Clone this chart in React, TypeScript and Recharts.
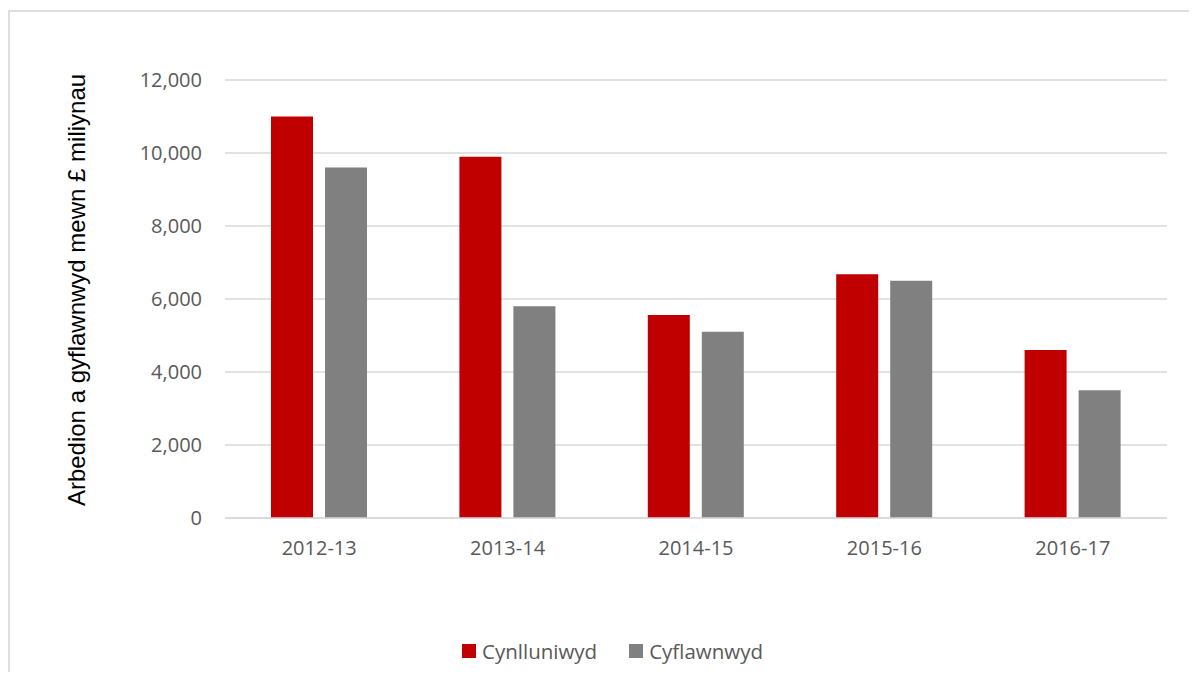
import React from 'react';
import { BarChart, Bar, XAxis, YAxis, CartesianGrid, Legend } from 'recharts';

const years = ['2012-13', '2013-14', '2014-15', '2015-16', '2016-17'];
const planned = [11000, 9900, 5560, 6680, 4600];
const achieved = [9600, 5800, 5100, 6500, 3500];
const yTicks = [0, 2000, 4000, 6000, 8000, 10000, 12000];

const plannedName = 'Cynlluniwyd';
const achievedName = 'Cyflawnwyd';
const yTitle = 'Arbedion a gyflawnwyd mewn £ miliynau';

const RED = '#C00000';
const GREY = '#808080';
const TICK_FONT = '"Open Sans", "Noto Sans", sans-serif';

const data = years.map((year, i) => ({
    year,
    planned: planned[i],
    achieved: achieved[i]
}));

const YTitle = ({ viewBox }: any) => {
    const mid = viewBox.y + viewBox.height / 2 - 9;
    return (
        <text
            x={0}
            y={0}
            transform={`translate(66, ${mid}) rotate(-90)`}
            textAnchor="middle"
            dominantBaseline="central"
            fill="#000"
            style={{ fontFamily: '"Liberation Sans", Arial, sans-serif', fontSize: 24 }}
        >
            {yTitle}
        </text>
    );
};

const LegendBox = () => (
    <div
        style={{
            height: 24,
            display: 'flex',
            justifyContent: 'center',
            alignItems: 'center',
            paddingLeft: 48,
            fontFamily: TICK_FONT,
            fontSize: 20.5,
            color: '#595959'
        }}
    >
        {[{ name: plannedName, color: RED }, { name: achievedName, color: GREY }].map((item, i) => (
            <span key={item.name} style={{ display: 'flex', alignItems: 'center', marginLeft: i ? 32 : 0 }}>
                <span style={{ width: 14, height: 14, background: item.color, marginRight: 6, display: 'inline-block' }} />
                {item.name}
            </span>
        ))}
    </div>
);

export default function App() {
    return (
        <div style={{ marginTop: 2, width: 1179, borderTop: '2px solid #dedede', borderLeft: '2px solid #dedede' }}>
            <BarChart
                width={1179}
                height={660}
                data={data}
                margin={{ top: 68, right: 22, left: 0, bottom: 9 }}
                barSize={42}
                barGap={12}
            >
                <CartesianGrid vertical={false} stroke="#d9d9d9" strokeWidth={1.5} />
                <XAxis
                    dataKey="year"
                    height={121}
                    axisLine={{ stroke: '#d9d9d9', strokeWidth: 1.5 }}
                    tickLine={false}
                    tickMargin={17}
                    tick={{ fill: '#595959', fontSize: 20, fontFamily: TICK_FONT }}
                />
                <YAxis
                    width={215}
                    domain={[0, 12000]}
                    ticks={yTicks}
                    interval={0}
                    axisLine={false}
                    tickLine={false}
                    tickMargin={17}
                    tickFormatter={(v: number) => v.toLocaleString('en-US')}
                    tick={{ fill: '#595959', fontSize: 20, fontFamily: TICK_FONT }}
                    label={<YTitle />}
                />
                <Legend verticalAlign="bottom" content={<LegendBox />} />
                <Bar dataKey="planned" name={plannedName} fill={RED} isAnimationActive={false} />
                <Bar dataKey="achieved" name={achievedName} fill={GREY} isAnimationActive={false} />
            </BarChart>
        </div>
    );
}
